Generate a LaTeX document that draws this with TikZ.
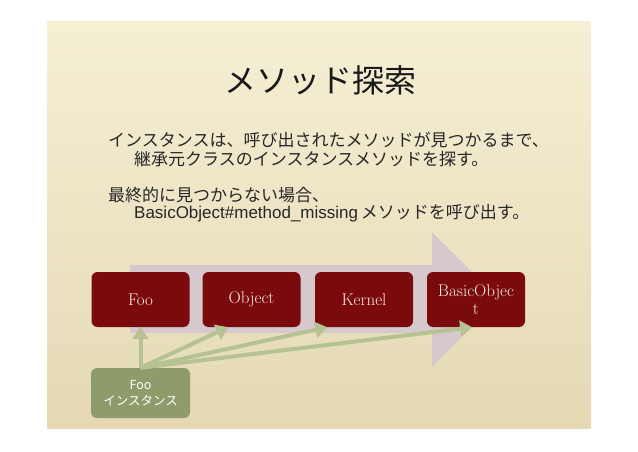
\documentclass[tikz,border=0pt]{standalone}
\usepackage{fontspec}
\newfontfamily\jpfont{Noto Sans CJK JP}
\newfontfamily\helv{Liberation Sans}
\usetikzlibrary{arrows.meta}
\definecolor{parchtop}{RGB}{245,239,212}
\definecolor{parchbot}{RGB}{229,217,180}
\definecolor{flowgray}{RGB}{213,201,206}
\definecolor{classred}{RGB}{122,10,12}
\definecolor{classtext}{RGB}{247,236,222}
\definecolor{instfill}{RGB}{143,155,106}
\definecolor{instline}{RGB}{183,194,146}
\tikzset{
	classbox/.style={fill=classred, text=classtext, rounded corners=6pt, minimum width=98pt, minimum height=55pt, inner sep=2pt, align=center, font=\fontsize{17}{18}\selectfont},
	instbox/.style={fill=instfill, text=white, rounded corners=6pt, minimum width=99pt, minimum height=50pt, inner sep=2pt, align=center, font=\jpfont\fontsize{12.5}{16}\selectfont},
	bodytext/.style={anchor=west, inner sep=0pt, text=black!85, font=\jpfont\fontsize{17}{19}\selectfont},
	findarrow/.style={draw=instline, line width=4pt, -{Triangle[length=12pt,width=16pt]}},
}
\begin{document}
\begin{tikzpicture}[x=1pt,y=-1pt]
	\useasboundingbox (0,0) rectangle (638,452);
	\shade[top color=parchtop, bottom color=parchbot] (47,22) rectangle (591,428);

	\node[font=\jpfont\fontsize{32}{36}\selectfont, text=black!90] (title) at (320,80) {メソッド探索};
	\node[bodytext] (line1) at (108,140) {インスタンスは、呼び出されたメソッドが見つかるまで、};
	\node[bodytext] (line2) at (134,159) {継承元クラスのインスタンスメソッドを探す。};
	\node[bodytext] (line3) at (108,195) {最終的に見つからない場合、};
	\node[bodytext] (line4) at (134,213) {{\helv BasicObject\#method\_missing}\,メソッドを呼び出す。};

	% lookup direction
	\fill[flowgray] (130,265) -- (432,265) -- (432,232) -- (499,299.5) -- (432,367) -- (432,333) -- (130,333) -- cycle;

	\node[classbox] (foo) at (140.5,299.5) {Foo};
	\node[classbox] (object) at (251.5,299.5) {Object};
	\node[classbox] (kernel) at (364,299.5) {Kernel};
	\node[classbox] (basic) at (476,299.5) {BasicObjec\\t};

	\node[instbox] (inst) at (140.5,393) {Foo\\インスタンス};

	\draw[findarrow] (inst.north) -- (foo.south);
	\draw[findarrow] (inst.north) -- (object.-130);
	\draw[findarrow] (inst.north) -- (kernel.-143);
	\draw[findarrow] (inst.north) -- (basic.-98);
\end{tikzpicture}
\end{document}
